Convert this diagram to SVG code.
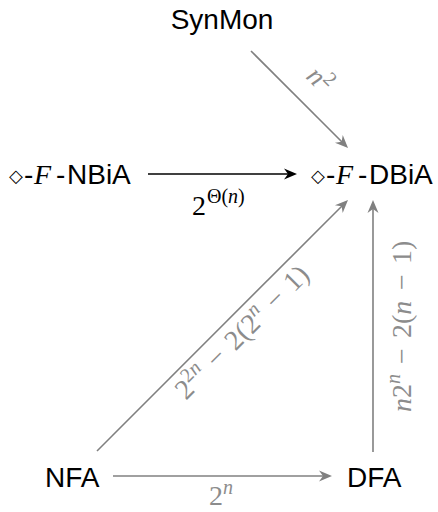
<svg xmlns="http://www.w3.org/2000/svg" width="438" height="512" viewBox="0 0 438 512">
  <style>
    .node { font-family: "Liberation Sans", Arial, sans-serif; font-size: 28px; fill: #000; }
    .dia { font-family: "DejaVu Sans", sans-serif; font-size: 18px; fill: #000; }
    .mi { font-family: "Liberation Serif", "Times New Roman", serif; font-style: italic; }
    .math { font-family: "Liberation Serif", "Times New Roman", serif; font-size: 28px; }
    .sup { font-size: 20px; }
    .glabel { fill: #8c8c8c; }
    .blabel { fill: #000; }
    .edge { fill: none; stroke-width: 1.6; }
    .black { stroke: #000; }
    .gray { stroke: #808080; }
  </style>
  <defs>
    <marker id="ah-black" markerUnits="userSpaceOnUse" viewBox="-15 -7 17 14" markerWidth="17" markerHeight="14" refX="-6" refY="0" orient="auto">
      <path d="M0,0 L-13,-5.5 L-9,0 L-13,5.5 Z" fill="#000"/>
    </marker>
    <marker id="ah-gray" markerUnits="userSpaceOnUse" viewBox="-15 -7 17 14" markerWidth="17" markerHeight="14" refX="-6" refY="0" orient="auto">
      <path d="M0,0 L-13,-5.5 L-9,0 L-13,5.5 Z" fill="#808080"/>
    </marker>
  </defs>

  <g id="connectors">
    <g id="e-nbia-dbia">
      <path class="edge black" d="M148,174 L291,174" marker-end="url(#ah-black)"/>
      <text class="math blabel"><tspan x="192" y="215">2</tspan><tspan class="sup" x="207" y="203">Θ(<tspan class="mi">n</tspan>)</tspan></text>
    </g>
    <g id="e-synmon-dbia">
      <path class="edge gray" d="M251,51 L343.8,143.8" marker-end="url(#ah-gray)"/>
      <text class="math glabel" transform="translate(313.5,86) rotate(45)"><tspan class="mi" x="-12" y="0">n</tspan><tspan class="sup" x="2" y="-10">2</tspan></text>
    </g>
    <g id="e-nfa-dbia">
      <path class="edge gray" d="M97,451 L343.75,204.23" marker-end="url(#ah-gray)"/>
      <text class="math glabel" transform="translate(249,338) rotate(-44.9)"><tspan x="-89" y="0">2</tspan><tspan class="sup" x="-75" y="-11">2<tspan class="mi">n</tspan></tspan><tspan x="-45" y="0">−</tspan><tspan x="-19" y="0">2(2</tspan><tspan class="sup" x="18" y="-11"><tspan class="mi">n</tspan></tspan><tspan x="38" y="0">−</tspan><tspan x="64" y="0">1)</tspan></text>
    </g>
    <g id="e-dfa-dbia">
      <path class="edge gray" d="M373,452 L373,206" marker-end="url(#ah-gray)"/>
      <text class="math glabel" transform="translate(411,326) rotate(-90)"><tspan class="mi" x="-86" y="0">n</tspan><tspan x="-72" y="0">2</tspan><tspan class="sup" x="-58" y="-11"><tspan class="mi">n</tspan></tspan><tspan x="-38" y="0">−</tspan><tspan x="-12" y="0">2(<tspan class="mi">n</tspan></tspan><tspan x="36" y="0">−</tspan><tspan x="62" y="0">1)</tspan></text>
    </g>
    <g id="e-nfa-dfa">
      <path class="edge gray" d="M113,476 L326,476" marker-end="url(#ah-gray)"/>
      <text class="math glabel"><tspan x="209" y="505">2</tspan><tspan class="sup mi" x="223" y="494">n</tspan></text>
    </g>
  </g>

  <g id="n-synmon">
    <text class="node" x="222" y="29" text-anchor="middle">SynMon</text>
  </g>
  <g id="n-nbia">
    <text class="node"><tspan class="dia" x="9" y="182">◇</tspan><tspan x="24" y="184">-</tspan><tspan class="mi" x="34" y="184">F</tspan><tspan x="56" y="184">-</tspan><tspan x="67" y="184">NBiA</tspan></text>
  </g>
  <g id="n-dbia">
    <text class="node"><tspan class="dia" x="311" y="182">◇</tspan><tspan x="326" y="184">-</tspan><tspan class="mi" x="336" y="184">F</tspan><tspan x="358" y="184">-</tspan><tspan x="369" y="184">DBiA</tspan></text>
  </g>
  <g id="n-nfa">
    <text class="node" x="45" y="487">NFA</text>
  </g>
  <g id="n-dfa">
    <text class="node" x="347" y="487">DFA</text>
  </g>
</svg>
